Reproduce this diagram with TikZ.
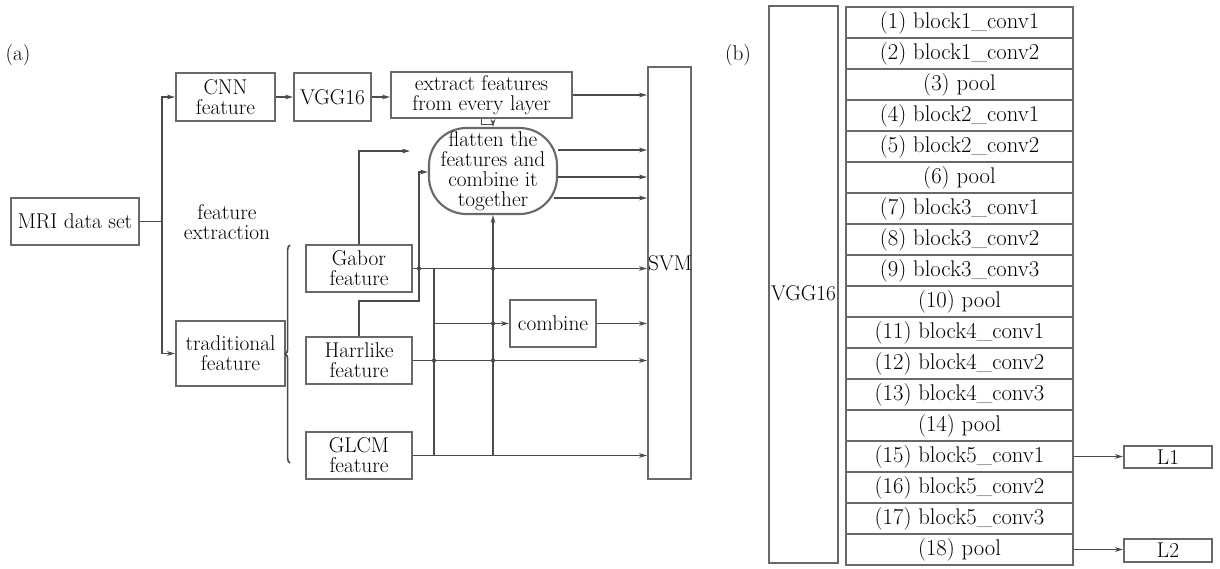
\documentclass[tikz,border=0pt]{standalone}
\usetikzlibrary{arrows.meta,decorations.pathreplacing}
\definecolor{boxgray}{RGB}{105,105,105}
\definecolor{linegray}{RGB}{75,75,75}
\newcommand\fsa{\fontsize{16}{15}\selectfont}
\newcommand\fsb{\fontsize{17}{15}\selectfont}
% box by pixel corners: [options]{name}{x1}{y1}{x2}{y2}{text}
\newcommand\bx[7][]{\node[box, minimum width={(#5-#3)*0.75pt}, minimum height={(#6-#4)*0.75pt}, #1] (#2) at ({(#3+#5)/2},{(#4+#6)/2}) {#7};}
\begin{document}
\begin{tikzpicture}[x=0.75pt,y=-0.75pt,
  box/.style={draw=boxgray, line width=1.6pt, inner sep=0pt, align=center, font=\fsa},
  conn/.style={draw=linegray, line width=1.2pt},
  arr/.style={conn, -{Stealth[length=6pt,width=3.6pt]}},
  hop/.style={fill=linegray, circle, inner sep=0pt, minimum size=3.2pt},
  txt/.style={align=center, font=\fsa, inner sep=0pt}]
\useasboundingbox (0,0) rectangle (1220,568);

% ---------- panel (a) ----------
\node[txt] (la) at (18,55) {(a)};
\bx{mri}{11}{198}{139}{245}{MRI data set}
\bx{cnn}{176}{73}{275}{121}{CNN\\feature}
\bx{vgg}{294}{73}{371}{121}{VGG16}
\bx{ext}{391}{72}{572}{118}{extract features\\from every layer}
\bx[rounded corners=28pt]{flat}{429}{128}{557}{214}{flatten the\\features and\\combine it\\together}
\bx{svm}{648}{67}{691}{479}{}
\node[txt] (svmt) at (670,263) {SVM};
\bx{trad}{176}{321}{285}{386}{traditional\\feature}
\bx{gabor}{306}{245}{412}{292}{Gabor\\feature}
\bx{harr}{306}{337}{412}{384}{Harrlike\\feature}
\bx{glcm}{306}{432}{412}{479}{GLCM\\feature}
\bx{comb}{510}{300}{596}{347}{combine}
\node[txt] (fext) at (227,222) {feature\\extraction};

\coordinate (split) at (162,221.5);
\draw[conn] (mri.east) -- (split);
\draw[arr] (split) |- (cnn.west);
\draw[arr] (split) |- (trad.west);
\draw[arr] (cnn) -- (vgg);
\draw[arr] (vgg.east) -- (vgg.east -| ext.west);
\draw[arr] (ext.east) -- (ext.east -| svm.west);
\draw[arr] (ext.south) -- ++(0,5.5) -| (flat.north);
\draw[arr] (flat.east |- 0,150) -- (svm.west |- 0,150);
\draw[arr] (flat.east |- 0,177) -- (svm.west |- 0,177);
\draw[arr] ([xshift=-3pt]flat.east |- 0,198) -- (svm.west |- 0,198);

\coordinate (gfree) at (410,151);
\draw[arr] (gabor.north) |- (gfree);
\draw[arr] (harr.north) |- (419,301) -- (419,172) -- (flat.west |- 0,172);

\draw[arr] (gabor.east) -- (gabor.east -| svm.west);
\draw[arr] (harr.east) -- (harr.east -| svm.west);
\draw[arr] (glcm.east) -- (glcm.east -| svm.west);
\draw[arr] (comb.east) -- (comb.east -| svm.west);

\coordinate (bt) at (434,268.5);
\coordinate (bb) at (434,455.5);
\draw[conn] (bt) -- (bb);
\draw[arr] (bt |- comb.west) -- (comb.west);
\draw[arr] (flat.south |- glcm.east) -- (flat.south);

\node[hop] at (419,268.5) {};
\node[hop] at (flat.south |- gabor.east) {};
\node[hop] at (flat.south |- comb.west) {};
\node[hop] at (flat.south |- harr.east) {};
\node[hop] at (bt |- harr.east) {};

\draw[conn, decorate, decoration={brace, amplitude=3.5pt}] (290,463) -- (290,245);

% ---------- panel (b) ----------
\node[txt] (lb) at (738,55) {(b)};
\bx{vggbig}{769}{6}{838}{563}{}
\node[txt] (vggt) at (803.5,293) {VGG16};
\foreach \t [count=\i] in {{(1) block1\_conv1},{(2) block1\_conv2},{(3) pool},
  {(4) block2\_conv1},{(5) block2\_conv2},{(6) pool},
  {(7) block3\_conv1},{(8) block3\_conv2},{(9) block3\_conv3},{(10) pool},
  {(11) block4\_conv1},{(12) block4\_conv2},{(13) block4\_conv3},{(14) pool},
  {(15) block5\_conv1},{(16) block5\_conv2},{(17) block5\_conv3},{(18) pool}}{
  \pgfmathsetmacro\ya{7+(\i-1)*31}
  \pgfmathsetmacro\yb{7+\i*31}
  \bx[font=\fsb]{row\i}{846}{\ya}{1073}{\yb}{\t}
}
\bx{l1}{1124}{446}{1212}{468}{L1}
\bx{l2}{1124}{539}{1212}{562}{L2}
\draw[arr] (row15.east) -- (row15.east -| l1.west);
\draw[arr] (row18.east) -- (row18.east -| l2.west);
\end{tikzpicture}
\end{document}
